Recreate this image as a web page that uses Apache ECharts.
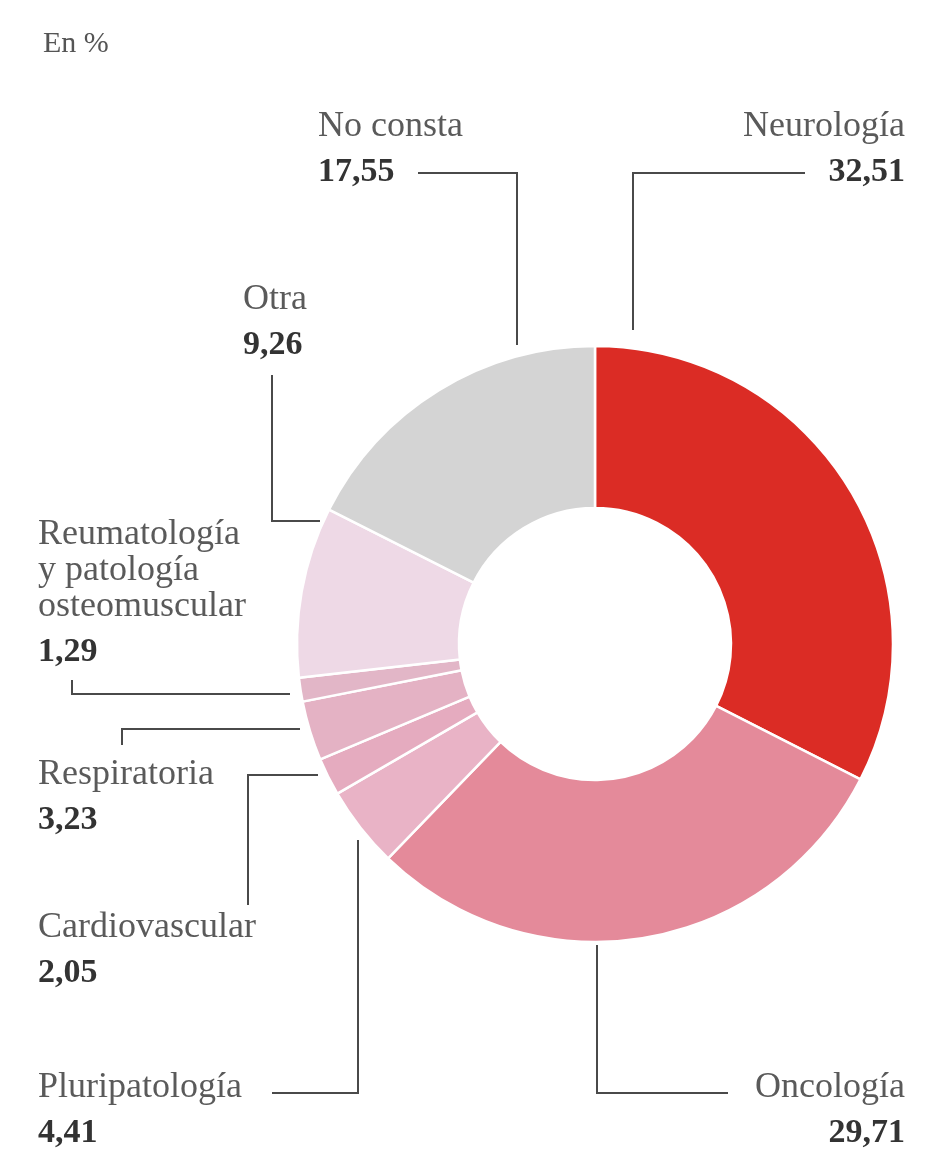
<!DOCTYPE html>
<html>
<head>
<meta charset="utf-8">
<script src="https://cdn.jsdelivr.net/npm/echarts@6/dist/echarts.min.js"></script>
<style>
  html, body { margin: 0; padding: 0; background: #ffffff; }
  #chart { width: 934px; height: 1157px; }
</style>
</head>
<body>
<div id="chart"></div>
<script>
// ---- Data ----
const categories = [
  'Neurología',
  'Oncología',
  'Pluripatología',
  'Cardiovascular',
  'Respiratoria',
  'Reumatología\ny patología\nosteomuscular',
  'Otra',
  'No consta'
];
const values = [32.51, 29.71, 4.41, 2.05, 3.23, 1.29, 9.26, 17.55];
const unitLabel = 'En %';

// ---- Styles (kept apart from data) ----
const sliceColors = ['#db2c25', '#e48a9a', '#e9b3c6', '#e5abbf', '#e4b2c4', '#e2b6c7', '#eed9e6', '#d4d4d4'];

// Label placement: x,y = anchor of the text block (top), align, and the elbow line points
const labelPlacement = [
  { x: 905, y: 109, align: 'right', line: [[633, 330], [633, 173], [805, 173]] },
  { x: 905, y: 1070, align: 'right', line: [[597, 945], [597, 1093], [728, 1093]] },
  { x: 38,  y: 1070, align: 'left',  line: [[358, 840], [358, 1093], [272, 1093]] },
  { x: 38,  y: 910,  align: 'left',  line: [[318, 775], [248, 775], [248, 905]] },
  { x: 38,  y: 757,  align: 'left',  line: [[300, 729], [122, 729], [122, 745]] },
  { x: 38,  y: 517,  align: 'left',  line: [[290, 694], [72, 694], [72, 680]] },
  { x: 243, y: 282,  align: 'left',  line: [[320, 521], [272, 521], [272, 375]] },
  { x: 318, y: 109,  align: 'left',  line: [[517, 345], [517, 173], [418, 173]] }
];

function fmt(v) { return v.toFixed(2).replace('.', ','); }

const chart = echarts.init(document.getElementById('chart'), null, { renderer: 'canvas' });

const option = {
  animation: false,
  backgroundColor: '#ffffff',
  title: {
    text: unitLabel,
    left: 38,
    top: 24,
    textStyle: { fontFamily: 'Liberation Serif', fontSize: 30, fontWeight: 'normal', color: '#555555' }
  },
  series: [{
    type: 'pie',
    center: [595, 644],
    radius: [136, 298],
    startAngle: 90,
    clockwise: true,
    silent: true,
    avoidLabelOverlap: false,
    itemStyle: { borderColor: '#ffffff', borderWidth: 2.5 },
    data: categories.map((c, i) => ({ name: c, value: values[i], itemStyle: { color: sliceColors[i] } })),
    label: {
      show: true,
      position: 'outside',
      formatter: (p) => {
        const lines = p.name.split('\n').map(s => '{n|' + s + '}').join('\n');
        return lines + '\n{v|' + fmt(p.value) + '}';
      },
      rich: {
        n: { fontFamily: 'Liberation Serif', fontSize: 36, lineHeight: 36, color: '#5a5a5a' },
        v: { fontFamily: 'Liberation Serif', fontSize: 34, lineHeight: 54, fontWeight: 'bold', color: '#333333' }
      }
    },
    labelLine: {
      show: true,
      lineStyle: { color: '#4a4a4a', width: 2 }
    },
    labelLayout: (params) => {
      const pl = labelPlacement[params.dataIndex];
      return {
        x: pl.x,
        y: pl.y,
        align: pl.align,
        verticalAlign: 'top',
        labelLinePoints: pl.line
      };
    }
  }]
};
chart.setOption(option);
</script>
</body>
</html>
